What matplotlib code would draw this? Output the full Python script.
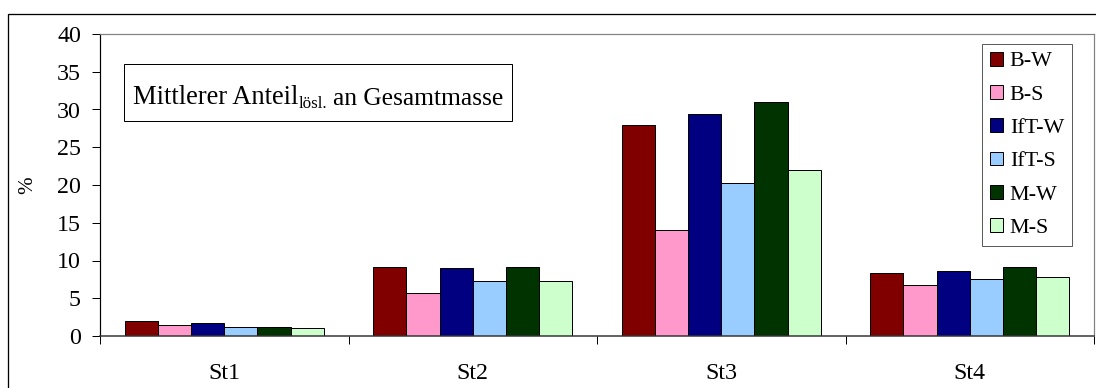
import numpy as np
import matplotlib
matplotlib.use("Agg")
import matplotlib.pyplot as plt
from matplotlib.patches import Rectangle

plt.rcParams['font.family'] = ['Liberation Serif', 'DejaVu Serif']

categories = ['St1', 'St2', 'St3', 'St4']
series = ['B-W', 'B-S', 'IfT-W', 'IfT-S', 'M-W', 'M-S']
b_w = [2.0, 9.2, 28.0, 8.4]
b_s = [1.45, 5.7, 14.0, 6.8]
ift_w = [1.7, 8.95, 29.45, 8.55]
ift_s = [1.25, 7.3, 20.25, 7.6]
m_w = [1.2, 9.2, 31.0, 9.2]
m_s = [1.05, 7.3, 22.0, 7.85]
values = [b_w, b_s, ift_w, ift_s, m_w, m_s]
colors = ['#800000', '#FF99CC', '#000080', '#99CCFF', '#003300', '#CCFFCC']

W, H = 1096, 388
fig = plt.figure(figsize=(W / 72, H / 72), dpi=72)

# outer chart frame (right and bottom edges run off the picture)
fig.patches.append(Rectangle((8 / W, -0.1), 1.2, 1.1 - 14 / H, transform=fig.transFigure,
                             fill=False, edgecolor='black', linewidth=1.3))

ax = fig.add_axes([100 / W, (H - 336) / H, 994 / W, 302 / H])

x = np.arange(len(categories))
group = 0.8
bw = group / len(series)
for i, (name, vals) in enumerate(zip(series, values)):
    pos = x - group / 2 + bw * (i + 0.5)
    ax.bar(pos, vals, width=bw, color=colors[i], edgecolor='black', linewidth=1.0, label=name)

ax.set_xlim(-0.5, len(categories) - 0.5)
ax.set_ylim(0, 40)
ax.set_yticks(np.arange(0, 41, 5))
ax.set_xticks(x)
ax.set_xticklabels(categories, fontsize=24)
ax.set_xticks(np.arange(-0.5, len(categories), 1.0), minor=True)
ax.tick_params(axis='x', which='major', length=0, pad=27)
ax.tick_params(axis='x', which='minor', length=8, width=1, direction='out')
ax.tick_params(axis='y', labelsize=24, length=8, width=1, pad=11)

for s in ['top', 'right']:
    ax.spines[s].set_color('#808080')
    ax.spines[s].set_linewidth(1.2)
ax.spines['left'].set_linewidth(1.2)
ax.spines['bottom'].set_linewidth(1.5)
ax.spines['bottom'].set_color('#333333')

ax.set_ylabel('%', fontsize=21, labelpad=20)

# title box inside the plot
ax.add_patch(Rectangle((24 / 994, (336 - 121) / 302), 388 / 994, 57 / 302,
                       transform=ax.transAxes, fill=True, facecolor='white',
                       edgecolor='black', linewidth=1.0, zorder=3))
t1 = ax.text((133 - 100) / 994, (336 - 104) / 302, 'Mittlerer Anteil',
             transform=ax.transAxes, ha='left', va='baseline', fontsize=26.5, zorder=4)
t2 = ax.annotate('lösl.', xy=(1, 0), xycoords=t1, xytext=(0, -2.5), textcoords='offset points',
                 ha='left', va='bottom', fontsize=17, zorder=4)
t3 = ax.annotate('an Gesamtmasse', xy=(1, 0), xycoords=(t2, t1), xytext=(6, 0),
                 textcoords='offset points', ha='left', va='bottom', fontsize=25.5, zorder=4)

leg = ax.legend(loc='upper left', bbox_to_anchor=((982 - 100) / 994, (336 - 44) / 302),
                borderaxespad=0, fontsize=22, frameon=True, fancybox=False,
                handlelength=0.59, handleheight=0.59, handletextpad=0.32,
                labelspacing=0.62, borderpad=0.35)
leg.get_frame().set_edgecolor('#333333')
leg.get_frame().set_linewidth(1.0)

fig.savefig('out.png', dpi=72)
